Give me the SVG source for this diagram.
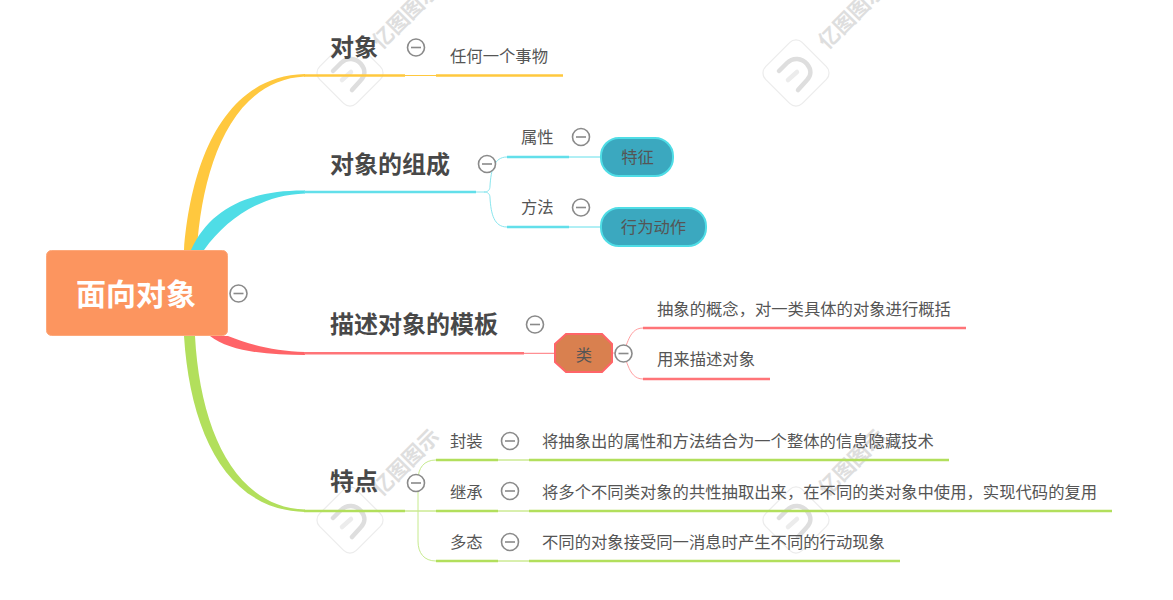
<svg xmlns="http://www.w3.org/2000/svg" width="1173" height="600" viewBox="0 0 1173 600">
<style>
text{font-family:"Noto Sans CJK SC","Microsoft YaHei",sans-serif;dominant-baseline:central}
.t1{font-size:24px;font-weight:700;fill:#484848}
.t2{font-size:16.33px;fill:#555}
.c{fill:#fff;stroke:#8a8a8a;stroke-width:1.6}
.m{stroke:#8a8a8a;stroke-width:1.6;fill:none}
.thin{fill:none;stroke-width:1}
.thick{fill:none;stroke-width:2.500}
.y{stroke:#FFC83E}.b{stroke:#62DFEA}.r{stroke:#FF7478}.g{stroke:#B2DF5C}.gl{stroke:#C6EA8E}.bl{stroke:#8AE6EE}.rl{stroke:#FF9FA1}
.wm{font-size:21px;fill:#dedede;font-weight:700}
.wd{fill:#fff;stroke:#ececec;stroke-width:1.2}
.wa{fill:none;stroke:#dedede;stroke-width:4.500;stroke-linecap:round}
.wb{fill:none;stroke:#ececec;stroke-width:4.500;stroke-linecap:round}
</style>
<defs>
<g id="wmk">
<rect class="wd" x="-26" y="-26" width="52" height="52" rx="9" transform="rotate(45)"/>
<path class="wa" d="M-17,-2 L-9,-10 C-3,-16 6,-15 11,-9 C16,-3 15,3 11,7 L2,17"/>
<path class="wb" d="M-8,7 L1,-1"/>
<text class="wm" x="0" y="0" transform="translate(25,-29) rotate(-45)">亿图图示</text>
</g>
</defs>
<rect width="1173" height="600" fill="#fff"/>
<g id="watermarks">
<use href="#wmk" x="350" y="73"/>
<use href="#wmk" x="796" y="73"/>
<use href="#wmk" x="350" y="520"/>
<use href="#wmk" x="796" y="520"/>
</g>
<g id="connectors">
<path fill="#FFC83E" d="M184,250 C190,170 220,76 305,74 L305,76.500 C230,80 202,170 197,250 Z"/>
<path class="thick y" d="M304,75.500H405"/><path class="thin y" d="M405,75.500H436"/><path class="thick y" d="M436,75.500H563"/>
<path fill="#4FDDE6" d="M191,250 C210,208 250,190 305,190.500 L305,193.500 C262,195 228,217 204,250 Z"/>
<path class="thick b" d="M304,192H476"/><path class="thin bl" d="M476,192H484C488,192 490,190 490,186C491,170 494,157 507,157M484,192C488,192 490,194 490,198C491,214 494,227 507,227"/>
<path class="thick b" d="M507,157H569M507,227H569"/><path class="thin b" d="M569,157H600M569,227H600"/>
<path fill="#FF6468" d="M210,336 H228 C250,345 275,351 305,352 L305,355 C270,355 230,352 210,336 Z"/>
<path class="thick r" d="M304,353.300H524"/><path class="thin r" d="M524,353.300H554"/>
<path class="thin rl" d="M613,353H620C628,353 626,328 643,328M620,353C628,353 626,379 643,379"/>
<path class="thick r" d="M643,328H966M643,379H770"/>
<path fill="#B2DF5C" d="M184,336 H195 C200,430 235,507 305,509.500 L305,512 C225,510 190,430 184,336 Z"/>
<path class="thick g" d="M304,511H405"/><path class="thin g" d="M405,511H436"/>
<path class="thin gl" d="M418,480V541M418,480C418,468 424,460 436,460M418,541C418,553 424,561 436,561"/>
<path class="thick g" d="M436,460H498M529,460H949M436,511H498M529,511H1112M436,561H498M529,561H900"/>
<path class="thin g" d="M498,460H529M498,511H529M498,561H529"/>
</g>
<g id="root"><rect x="46.500" y="250.500" width="181" height="85" rx="5" fill="#FC955F" stroke="#FDA87A"/><text x="136" y="292" text-anchor="middle" font-size="30" font-weight="700" fill="#fff">面向对象</text></g>
<g id="n-duixiang"><text class="t1" x="330" y="45">对象</text></g>
<g id="n-renhe"><text class="t2" x="450" y="55">任何一个事物</text></g>
<g id="n-zucheng"><text class="t1" x="330" y="162">对象的组成</text></g>
<g id="n-shuxing"><text class="t2" x="521" y="135.500">属性</text></g>
<g id="n-fangfa"><text class="t2" x="521" y="206">方法</text></g>
<g id="n-tezheng"><rect x="601" y="138" width="72" height="38" rx="18" fill="#3BA8BF" stroke="#4FDDE6" stroke-width="2"/><text class="t2" x="637.500" y="155.500" text-anchor="middle">特征</text></g>
<g id="n-xingwei"><rect x="601" y="208" width="105" height="38" rx="18" fill="#3BA8BF" stroke="#4FDDE6" stroke-width="2"/><text class="t2" x="653.500" y="225.500" text-anchor="middle">行为动作</text></g>
<g id="n-muban"><text class="t1" x="330" y="322.500">描述对象的模板</text></g>
<g id="n-lei"><polygon points="566,334 602,334 612,344 612,362 602,372 566,372 555,362 555,344" fill="#D9804F" stroke="#FF6468" stroke-width="2"/><text class="t2" x="584" y="353.500" text-anchor="middle">类</text></g>
<g id="n-gainian"><text class="t2" x="657" y="307.500">抽象的概念，对一类具体的对象进行概括</text></g>
<g id="n-miaoshu"><text class="t2" x="657" y="358">用来描述对象</text></g>
<g id="n-tedian"><text class="t1" x="330" y="479.500">特点</text></g>
<g id="n-fengzhuang"><text class="t2" x="450" y="439.500">封装</text></g>
<g id="n-jicheng"><text class="t2" x="450" y="490.500">继承</text></g>
<g id="n-duotai"><text class="t2" x="450" y="540.500">多态</text></g>
<g id="n-d1"><text class="t2" x="542" y="439.500">将抽象出的属性和方法结合为一个整体的信息隐藏技术</text></g>
<g id="n-d2"><text class="t2" x="542" y="490.500">将多个不同类对象的共性抽取出来，在不同的类对象中使用，实现代码的复用</text></g>
<g id="n-d3"><text class="t2" x="542" y="540.500">不同的对象接受同一消息时产生不同的行动现象</text></g>
<g id="collapse-buttons">
<g transform="translate(238.500,293.500)"><circle class="c" r="8.500"/><path class="m" d="M-5,0H5"/></g>
<g transform="translate(416,47.500)"><circle class="c" r="8.500"/><path class="m" d="M-5,0H5"/></g>
<g transform="translate(487,164)"><circle class="c" r="8.500"/><path class="m" d="M-5,0H5"/></g>
<g transform="translate(581,137)"><circle class="c" r="8.500"/><path class="m" d="M-5,0H5"/></g>
<g transform="translate(581,207.500)"><circle class="c" r="8.500"/><path class="m" d="M-5,0H5"/></g>
<g transform="translate(535,324.500)"><circle class="c" r="8.500"/><path class="m" d="M-5,0H5"/></g>
<g transform="translate(623.500,353.500)"><circle class="c" r="8.500"/><path class="m" d="M-5,0H5"/></g>
<g transform="translate(416,483)"><circle class="c" r="8.500"/><path class="m" d="M-5,0H5"/></g>
<g transform="translate(510,441)"><circle class="c" r="8.500"/><path class="m" d="M-5,0H5"/></g>
<g transform="translate(510,491)"><circle class="c" r="8.500"/><path class="m" d="M-5,0H5"/></g>
<g transform="translate(510,542)"><circle class="c" r="8.500"/><path class="m" d="M-5,0H5"/></g>
</g>
</svg>
